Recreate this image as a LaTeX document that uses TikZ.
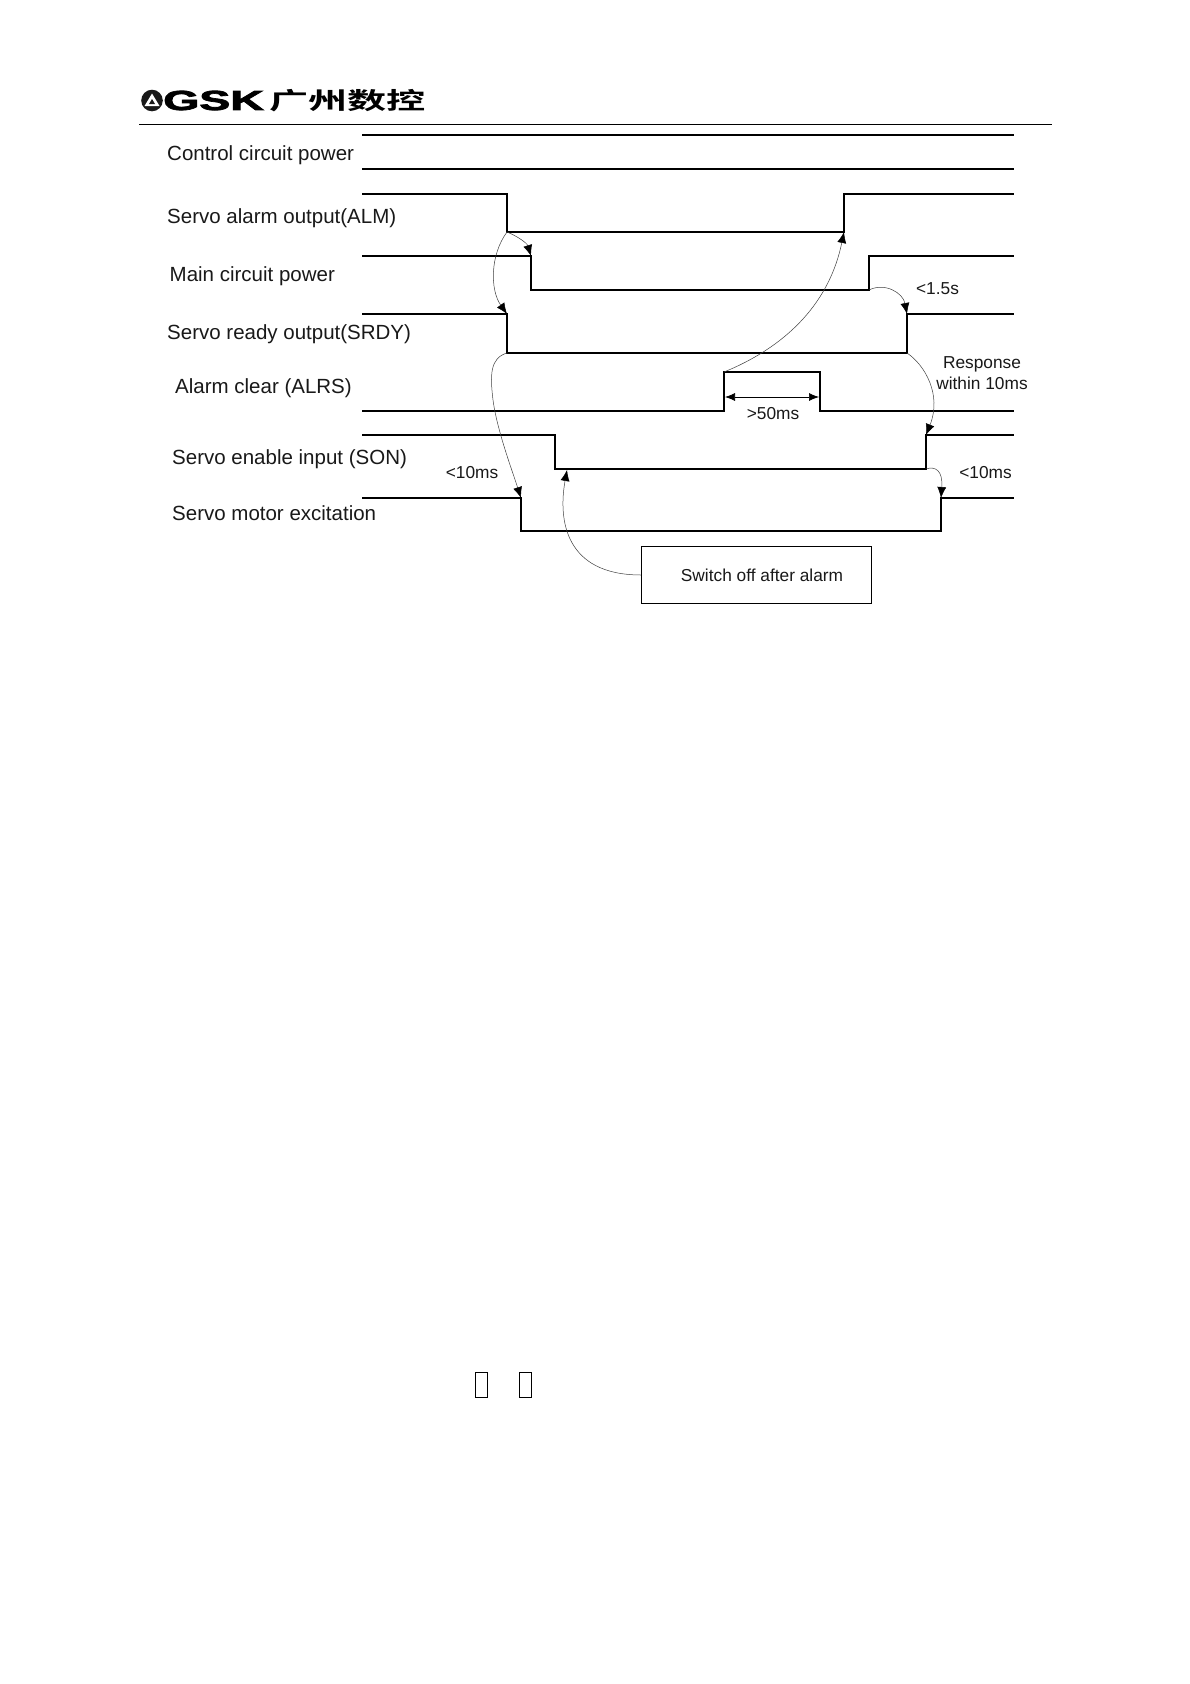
\documentclass[tikz,border=0pt]{standalone}
\usepackage{graphicx}
\usepackage{fontspec}
\setmainfont{Liberation Sans}
\newfontfamily\cjkfont{Noto Sans CJK SC}[BoldFont={* Bold}]
\newfontfamily\gskfont{Liberation Sans Bold}[FakeBold=2.5]
\usetikzlibrary{arrows.meta}
\tikzset{
  wave/.style={line width=1.8pt,line cap=butt,line join=miter,black},
  curvearrow/.style={line width=0.5pt,draw=black!75,-{Latex[length=11pt,width=9pt,black]}},
  siglabel/.style={anchor=west,inner sep=0pt,font=\fontsize{20.5}{24}\selectfont,text=black!90},
  smalllabel/.style={inner sep=0pt,font=\fontsize{17.3}{20}\selectfont,text=black!90,align=center},
  tofu/.style={draw=black,line width=1.1pt,fill=white},
}
\begin{document}
\begin{tikzpicture}[x=1pt,y=-1pt]
\useasboundingbox (0,0) rectangle (1190,1684);
\fill[white] (0,0) rectangle (1190,1684);
% header
\fill[black!90] (152,100.5) circle (10.8);
\fill[white] (152,93.5) -- (159.5,106) -- (144.5,106) -- cycle;
\fill[black!90] (152,99) -- (155,104) -- (149,104) -- cycle;
\node[inner sep=0pt,anchor=center] (gsk) at (213.5,100.5) {\scalebox{1.72}[1.02]{\fontsize{27}{28}\selectfont\gskfont GSK}};
\node[inner sep=0pt,anchor=center] (cn) at (347.5,100.5) {\scalebox{1.03}[0.62]{\fontsize{38}{40}\selectfont\cjkfont\bfseries 广州数控}};
\coordinate (hl) at (139,124); \coordinate (hr) at (1052,124);
\draw[line width=1pt] (hl) -- (hr);
% signal labels
\node[siglabel] (l1) at (167,155.5) {Control circuit power};
\node[siglabel] (l2) at (167,218.5) {Servo alarm output(ALM)};
\node[siglabel] (l3) at (169.5,276.5) {Main circuit power};
\node[siglabel] (l4) at (167,334.5) {Servo ready output(SRDY)};
\node[siglabel] (l5) at (175,388) {Alarm clear (ALRS)};
\node[siglabel] (l6) at (172,459.5) {Servo enable input (SON)};
\node[siglabel] (l7) at (172,513) {Servo motor excitation};
% corners
\coordinate (almA) at (507,232); \coordinate (almB) at (844,232);
\coordinate (mainA) at (531,256); \coordinate (mainB) at (869,290);
\coordinate (rdyA) at (507,314); \coordinate (rdyB) at (507,353);
\coordinate (rdyC) at (907,314); \coordinate (rdyD) at (907,353);
\coordinate (clrA) at (724,372); \coordinate (clrB) at (820,372);
\coordinate (sonA) at (567,470); \coordinate (sonB) at (926,435); \coordinate (sonC) at (926,469);
\coordinate (excA) at (521,498); \coordinate (excB) at (941,498);
% waveforms
\draw[wave] (362,135) -- (1014,135);
\draw[wave] (362,169) -- (1014,169);
\draw[wave] (362,194) -- (507,194) -- (almA) -- (almB) -- (844,194) -- (1014,194);
\draw[wave] (362,256) -- (mainA) -- (531,290) -- (mainB) -- (869,256) -- (1014,256);
\draw[wave] (362,314) -- (rdyA) -- (rdyB) -- (rdyD) -- (rdyC) -- (1014,314);
\draw[wave] (362,411) -- (724,411) -- (clrA) -- (clrB) -- (820,411) -- (1014,411);
\draw[wave] (362,435) -- (555,435) -- (555,469) -- (sonC) -- (sonB) -- (1014,435);
\draw[wave] (362,498) -- (excA) -- (521,531) -- (941,531) -- (excB) -- (1014,498);
% timing arrows
\draw[curvearrow] (almA) .. controls (517,236) and (527,243) .. (mainA);
\draw[curvearrow] (almA) .. controls (490,255) and (490,290) .. (rdyA);
\draw[curvearrow] (rdyB) .. controls (490,358) and (490,375) .. (493,400) .. controls (497,430) and (512,470) .. (excA);
\draw[curvearrow] (clrA) .. controls (790,345) and (830,300) .. (almB);
\draw[curvearrow] (mainB) .. controls (885,282) and (903,293) .. (rdyC);
\draw[curvearrow] (rdyD) .. controls (925,365) and (942,395) .. (sonB);
\draw[curvearrow] (sonC) .. controls (935,466) and (943,470) .. (excB);
\draw[line width=0.7pt,{Latex[length=10pt,width=8pt]}-{Latex[length=10pt,width=8pt]}] (725,397) -- (819,397);
% small labels
\node[smalllabel] (t15) at (937.5,289) {<1.5s};
\node[smalllabel] (resp) at (982,373) {Response\\[1.5pt]within 10ms};
\node[smalllabel] (t50) at (773,413.5) {>50ms};
\node[smalllabel] (t10a) at (472,473) {<10ms};
\node[smalllabel] (t10b) at (985.5,473) {<10ms};
% box
\node[draw=black,line width=0.7pt,minimum width=230pt,minimum height=57pt,inner sep=0pt,font=\fontsize{17.3}{20}\selectfont,text=black!90] (box) at (756.5,575) {\hspace{11pt}Switch off after alarm};
\draw[curvearrow] (box.west) .. controls (565,575) and (558,520) .. (sonA);
% missing-glyph boxes
\node[tofu,minimum width=12.5pt,minimum height=25.5pt,inner sep=0pt] (b1) at (481.5,1385) {};
\node[tofu,minimum width=12.5pt,minimum height=25.5pt,inner sep=0pt] (b2) at (525.5,1385) {};
\end{tikzpicture}
\end{document}
